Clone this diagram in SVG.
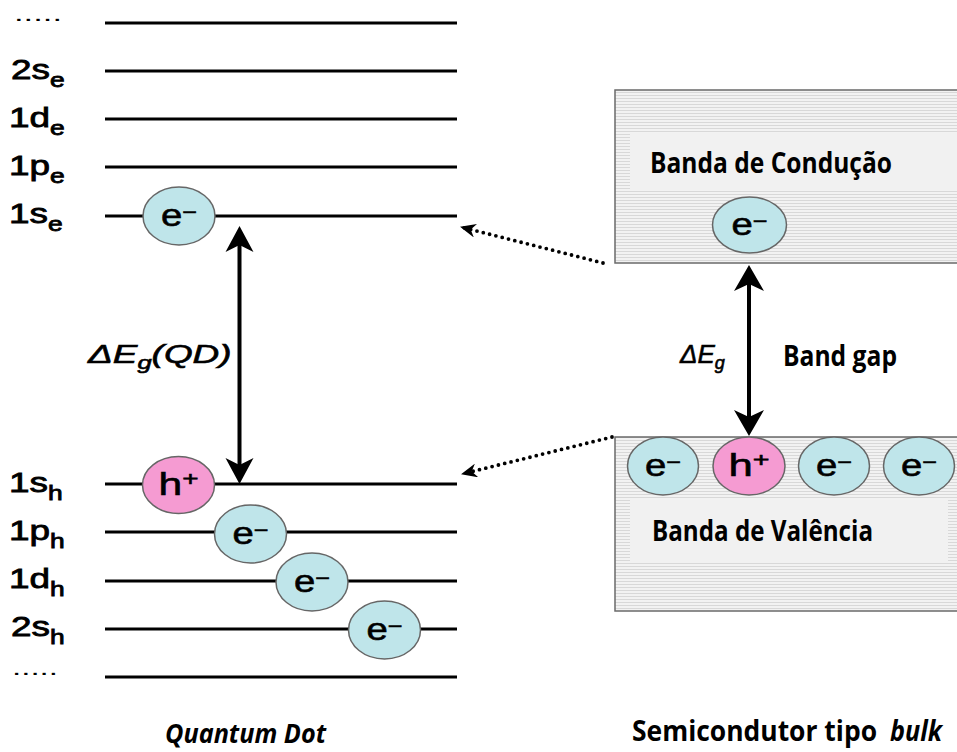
<svg xmlns="http://www.w3.org/2000/svg" width="957" height="752" viewBox="0 0 957 752">
<defs>
<pattern id="stripes" width="4" height="3" patternUnits="userSpaceOnUse">
<rect width="4" height="3" fill="#f2f2f2"/>
<rect y="2" width="4" height="1" fill="#d8d8d8"/>
</pattern>
<marker id="dothead" viewBox="0 0 16 14" refX="15" refY="7" markerWidth="16" markerHeight="14" markerUnits="userSpaceOnUse" orient="auto">
<path d="M16,7 L0,0 L5,7 L0,14 Z" fill="#000"/>
</marker>
<style>
.lvl{stroke:#000;stroke-width:3}
.lab{font-family:"Liberation Sans",Arial,sans-serif;font-size:28px;fill:#000;stroke:#000;stroke-width:0.8}
.sub{font-size:20px}
.el{fill:#bfe5ea;stroke:#666;stroke-width:1.5}
.ho{fill:#f59bd2;stroke:#666;stroke-width:1.5}
.pt{font-family:"Liberation Sans",Arial,sans-serif;font-size:32px;fill:#000;stroke:#000;stroke-width:0.6}
.sup{font-size:21px}
.bl{font-family:"Open Sans","Liberation Sans",sans-serif;font-weight:700;fill:#000}
.band{fill:url(#stripes);stroke:#6a6a6a;stroke-width:1.5}
.inner{fill:#f1f1f1}
.dots{font-family:"Liberation Sans",Arial,sans-serif;font-size:20px;fill:#000}
.dotted{fill:none;stroke:#000;stroke-width:3.8;stroke-linecap:round;stroke-dasharray:0 6.5}
</style>
</defs>
<rect width="957" height="752" fill="#fff"/>

<g id="qd-levels">
<g id="lvl-top"><line class="lvl" x1="105" y1="23" x2="457" y2="23"/><text class="dots" x="14" y="21" textLength="48" lengthAdjust="spacingAndGlyphs">.....</text></g>
<g id="lvl-2se"><line class="lvl" x1="105" y1="71" x2="457" y2="71"/><g transform="translate(11,79) scale(1.32,1)"><text class="lab">2s<tspan class="sub" dy="8">e</tspan></text></g></g>
<g id="lvl-1de"><line class="lvl" x1="105" y1="119" x2="457" y2="119"/><g transform="translate(9,127) scale(1.32,1)"><text class="lab">1d<tspan class="sub" dy="8">e</tspan></text></g></g>
<g id="lvl-1pe"><line class="lvl" x1="105" y1="167" x2="457" y2="167"/><g transform="translate(9,175) scale(1.32,1)"><text class="lab">1p<tspan class="sub" dy="8">e</tspan></text></g></g>
<g id="lvl-1se"><line class="lvl" x1="105" y1="216" x2="457" y2="216"/><g transform="translate(9,223) scale(1.32,1)"><text class="lab">1s<tspan class="sub" dy="8">e</tspan></text></g></g>
<g id="lvl-1sh"><line class="lvl" x1="105" y1="484" x2="457" y2="484"/><g transform="translate(9,492) scale(1.32,1)"><text class="lab">1s<tspan class="sub" dy="8">h</tspan></text></g></g>
<g id="lvl-1ph"><line class="lvl" x1="105" y1="532" x2="457" y2="532"/><g transform="translate(9,540) scale(1.32,1)"><text class="lab">1p<tspan class="sub" dy="8">h</tspan></text></g></g>
<g id="lvl-1dh"><line class="lvl" x1="105" y1="581" x2="457" y2="581"/><g transform="translate(9,588) scale(1.32,1)"><text class="lab">1d<tspan class="sub" dy="8">h</tspan></text></g></g>
<g id="lvl-2sh"><line class="lvl" x1="105" y1="629" x2="457" y2="629"/><g transform="translate(11,636) scale(1.32,1)"><text class="lab">2s<tspan class="sub" dy="8">h</tspan></text></g></g>
<g id="lvl-bottom"><line class="lvl" x1="105" y1="677" x2="457" y2="677"/><text class="dots" x="12" y="675" textLength="46" lengthAdjust="spacingAndGlyphs">.....</text></g>
</g>

<g id="qd-particles">
<g id="qd-e-1se"><ellipse class="el" cx="179" cy="216" rx="36" ry="29"/><text class="pt" x="179" y="226" text-anchor="middle" textLength="36" lengthAdjust="spacingAndGlyphs">e<tspan class="sup" dy="-7">−</tspan></text></g>
<g id="qd-h-1sh"><ellipse class="ho" cx="178.5" cy="485" rx="36" ry="28.5"/><text class="pt" x="178.5" y="495" text-anchor="middle" textLength="40" lengthAdjust="spacingAndGlyphs">h<tspan class="sup" dy="-9">+</tspan></text></g>
<g id="qd-e-1ph"><ellipse class="el" cx="250.5" cy="534" rx="36" ry="29"/><text class="pt" x="250.5" y="544" text-anchor="middle" textLength="36" lengthAdjust="spacingAndGlyphs">e<tspan class="sup" dy="-7">−</tspan></text></g>
<g id="qd-e-1dh"><ellipse class="el" cx="312" cy="582" rx="36" ry="29"/><text class="pt" x="312" y="592" text-anchor="middle" textLength="36" lengthAdjust="spacingAndGlyphs">e<tspan class="sup" dy="-7">−</tspan></text></g>
<g id="qd-e-2sh"><ellipse class="el" cx="384.5" cy="630" rx="36" ry="29"/><text class="pt" x="384.5" y="640" text-anchor="middle" textLength="36" lengthAdjust="spacingAndGlyphs">e<tspan class="sup" dy="-7">−</tspan></text></g>
</g>

<g id="qd-gap-label"><g transform="translate(88,363) scale(1.42,1)"><text class="lab" font-style="italic" style="font-size:26px;stroke-width:0.6">ΔE<tspan style="font-size:18px" dy="6">g</tspan><tspan dy="-6">(QD)</tspan></text></g></g>

<g id="conduction-band">
<rect class="band" x="615" y="90" width="350" height="173"/>
<rect class="inner" x="630" y="133" width="330" height="57"/>
<text class="bl" x="650" y="173" font-size="28" textLength="242" lengthAdjust="spacingAndGlyphs">Banda de Condução</text>
<ellipse class="el" cx="749.5" cy="225" rx="37" ry="28"/>
<text class="pt" x="749.5" y="235" text-anchor="middle" textLength="36" lengthAdjust="spacingAndGlyphs">e<tspan class="sup" dy="-7">−</tspan></text>
</g>

<g id="valence-band">
<rect class="band" x="615" y="437" width="350" height="174"/>
<rect class="inner" x="630" y="500" width="318" height="63"/>
<text class="bl" x="652" y="541" font-size="28" textLength="221" lengthAdjust="spacingAndGlyphs">Banda de Valência</text>
<ellipse class="el" cx="663" cy="466" rx="35.5" ry="29"/>
<text class="pt" x="663" y="476" text-anchor="middle" textLength="36" lengthAdjust="spacingAndGlyphs">e<tspan class="sup" dy="-7">−</tspan></text>
<ellipse class="ho" cx="749" cy="466" rx="36" ry="29"/>
<text class="pt" x="749" y="476" text-anchor="middle" textLength="41" lengthAdjust="spacingAndGlyphs">h<tspan class="sup" dy="-9">+</tspan></text>
<ellipse class="el" cx="834" cy="466" rx="35.5" ry="29"/>
<text class="pt" x="834" y="476" text-anchor="middle" textLength="36" lengthAdjust="spacingAndGlyphs">e<tspan class="sup" dy="-7">−</tspan></text>
<ellipse class="el" cx="919" cy="466" rx="35.5" ry="29"/>
<text class="pt" x="919" y="476" text-anchor="middle" textLength="36" lengthAdjust="spacingAndGlyphs">e<tspan class="sup" dy="-7">−</tspan></text>
</g>

<g id="bulk-gap-label">
<text class="lab" x="680" y="363" font-style="italic" style="font-size:26px;stroke-width:0.6">ΔE<tspan style="font-size:18px" dy="6">g</tspan></text>
<text class="bl" x="783" y="366" font-size="28" textLength="114" lengthAdjust="spacingAndGlyphs">Band gap</text>
</g>

<g id="connectors">
<line x1="239.5" y1="244" x2="239.5" y2="466" stroke="#000" stroke-width="4"/>
<path d="M239.5,226 L253.5,252 L239.5,245 L225.5,252 Z" fill="#000"/>
<path d="M239.5,484 L253.5,458 L239.5,465 L225.5,458 Z" fill="#000"/>
<line x1="749" y1="283" x2="749" y2="418" stroke="#000" stroke-width="4"/>
<path d="M749,265 L764,291 L749,284 L734,291 Z" fill="#000"/>
<path d="M749,436 L764,410 L749,417 L734,410 Z" fill="#000"/>
<line class="dotted" x1="603" y1="263" x2="461" y2="227" marker-end="url(#dothead)"/>
<line class="dotted" x1="612" y1="437" x2="462" y2="474" marker-end="url(#dothead)"/>
</g>

<g id="captions">
<text class="bl" x="165" y="743" font-size="27" font-style="italic" textLength="161" lengthAdjust="spacingAndGlyphs">Quantum Dot</text>
<text class="bl" x="632" y="741" font-size="28" textLength="245" lengthAdjust="spacingAndGlyphs">Semicondutor tipo</text>
<text class="bl" x="890" y="741" font-size="28" font-style="italic" textLength="52" lengthAdjust="spacingAndGlyphs">bulk</text>
</g>
</svg>
